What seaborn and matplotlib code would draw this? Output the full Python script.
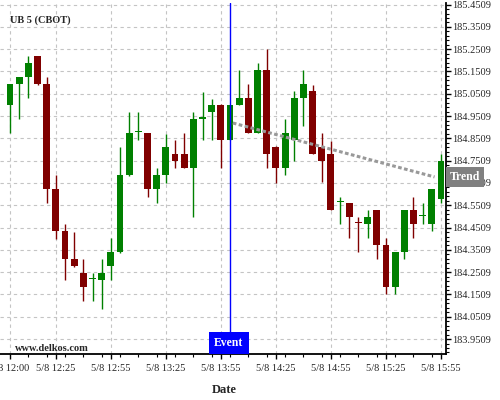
import numpy as np
import pandas as pd
import matplotlib
matplotlib.use("Agg")
import matplotlib.pyplot as plt
import matplotlib.transforms as mtransforms
from matplotlib.ticker import MultipleLocator, FixedLocator
import seaborn as sns

# 5-minute bars, 5/8 12:00 .. 15:55
opens = [185.000, 185.094, 185.127, 185.220, 185.094, 184.623, 184.435, 184.311,
         184.248, 184.219, 184.216, 184.278, 184.341, 184.686, 184.878, 184.873,
         184.625, 184.688, 184.781, 184.781, 184.719, 184.940, 184.970, 185.000,
         184.845, 185.000, 185.032, 184.876, 185.157, 184.812, 184.718, 184.845,
         185.032, 185.063, 184.813, 184.781, 184.565, 184.559, 184.472, 184.468,
         184.529, 184.373, 184.186, 184.343, 184.529, 184.501, 184.468, 184.577]
highs = [185.097, 185.128, 185.220, 185.222, 185.124, 184.686, 184.467, 184.432,
         184.308, 184.248, 184.308, 184.402, 184.811, 184.967, 184.967, 184.875,
         184.716, 184.870, 184.843, 184.873, 184.967, 185.060, 185.029, 185.003,
         185.002, 185.157, 185.094, 185.187, 185.250, 184.815, 184.936, 185.063,
         185.157, 185.090, 184.873, 184.840, 184.590, 184.561, 184.498, 184.528,
         184.531, 184.402, 184.341, 184.530, 184.589, 184.559, 184.626, 184.781]
lows = [184.875, 184.937, 185.030, 185.090, 184.559, 184.401, 184.216, 184.276,
        184.120, 184.120, 184.087, 184.216, 184.339, 184.684, 184.842, 184.589,
        184.559, 184.652, 184.716, 184.717, 184.497, 184.843, 184.843, 184.716,
        184.843, 184.999, 184.873, 184.874, 184.718, 184.652, 184.686, 184.749,
        184.906, 184.779, 184.654, 184.530, 184.465, 184.402, 184.340, 184.402,
        184.308, 184.153, 184.153, 184.308, 184.402, 184.468, 184.435, 184.559]
closes = [185.094, 185.126, 185.190, 185.094, 184.625, 184.437, 184.311, 184.278,
          184.186, 184.219, 184.248, 184.341, 184.686, 184.873, 184.878, 184.625,
          184.686, 184.812, 184.751, 184.719, 184.937, 184.940, 185.000, 184.845,
          185.000, 185.032, 184.876, 185.157, 184.781, 184.718, 184.875, 185.032,
          185.094, 184.781, 184.751, 184.531, 184.565, 184.499, 184.470, 184.498,
          184.374, 184.186, 184.340, 184.528, 184.468, 184.501, 184.624, 184.749]

tick_labels = ["5/8 12:00", "5/8 12:25", "5/8 12:55", "5/8 13:25", "5/8 13:55",
               "5/8 14:25", "5/8 14:55", "5/8 15:25", "5/8 15:55"]
event_time = "5/8 14:00"
trend_x = [24.3, 46.3]
trend_y = [184.920, 184.678]

times = pd.date_range("2024-05-08 12:00", periods=len(opens), freq="5min")
df = pd.DataFrame({"time": times.strftime("5/8 %H:%M"), "open": opens,
                   "high": highs, "low": lows, "close": closes})
df["idx"] = np.arange(len(df))
df["up"] = df["close"] >= df["open"]
df["color"] = np.where(df["up"], "#008000", "#800000")
df["bottom"] = df[["open", "close"]].min(axis=1)
df["height"] = (df["close"] - df["open"]).abs().clip(lower=0.005)

sns.set_style("white")
plt.rcParams["font.family"] = ["Liberation Serif", "DejaVu Serif"]

fig = plt.figure(figsize=(5, 4), dpi=100)
ax = fig.add_axes([0.0, 0.115, 0.892, 0.8775])

ax.vlines(df["idx"], df["low"], df["high"], colors=df["color"], linewidth=1.0, zorder=3)
ax.bar(df["idx"], df["height"], bottom=df["bottom"], width=0.75,
       color=df["color"], linewidth=0, zorder=4)

trend = pd.DataFrame({"x": trend_x, "y": trend_y})
sns.lineplot(data=trend, x="x", y="y", ax=ax, color="#999999",
             linewidth=2.2, linestyle=(0, (1.2, 0.8)), zorder=5)

event_idx = int(df.index[df["time"] == event_time][0])
ax.axvline(event_idx, color="#0000ff", linewidth=1.0, zorder=6)

ax.set_xlim(-1.09, 47.55)
ax.set_ylim(183.884, 185.458)

tick_pos = [int(df.index[df["time"] == t][0]) for t in tick_labels]
ax.xaxis.set_major_locator(FixedLocator(tick_pos))
ax.set_xticklabels(tick_labels)
ax.xaxis.set_minor_locator(MultipleLocator(2))

yt = np.round(np.arange(183.9509, 185.46, 0.1), 4)
ax.yaxis.set_major_locator(FixedLocator(yt))
ax.set_yticklabels([f"{v:.4f}" for v in yt])
ax.yaxis.set_minor_locator(FixedLocator(np.arange(183.8909, 185.46, 0.02)))
ax.yaxis.tick_right()

ax.tick_params(axis="both", which="major", labelsize=7.5, length=3.5, width=1, color="black")
ax.tick_params(axis="both", which="minor", length=2, width=0.8, color="black")
ax.tick_params(axis="x", which="major", pad=4)
ax.tick_params(axis="y", which="both", pad=1, right=True, left=False)
ax.tick_params(axis="x", which="both", bottom=True)

ax.grid(True, which="major", color="#c4c4c4", linestyle=(0, (3, 3)), linewidth=0.8)
ax.set_axisbelow(True)

for side in ["top", "left"]:
    ax.spines[side].set_visible(False)
for side in ["right", "bottom"]:
    ax.spines[side].set_color("black")
    ax.spines[side].set_linewidth(1.3)

ax.set_xlabel("Date", fontsize=9, fontweight="bold")
ax.xaxis.set_label_coords(0.504, -0.085)
ax.set_ylabel("")

ax.text(0.022, 0.952, "UB 5 (CBOT)", transform=ax.transAxes, fontsize=7.5,
        fontweight="bold", va="center", ha="left")
ax.text(0.034, 0.017, "www.delkos.com", transform=ax.transAxes, fontsize=7.5,
        fontweight="bold", va="center", ha="left")

blend = mtransforms.blended_transform_factory(ax.transData, ax.transAxes)
ax.text(event_idx - 0.15, 0.031, "Event", transform=blend, fontsize=8.5,
        fontweight="bold", color="white", ha="center", va="center", zorder=7,
        bbox=dict(boxstyle="square,pad=0.45", facecolor="#0000ff", edgecolor="none"))

blend_y = mtransforms.blended_transform_factory(ax.transAxes, ax.transData)
ax.text(1.0426, trend_y[-1], "Trend", transform=blend_y, fontsize=8.5,
        fontweight="bold", color="white", ha="center", va="center", zorder=7,
        clip_on=False,
        bbox=dict(boxstyle="square,pad=0.35", facecolor="#808080", edgecolor="none"))

fig.savefig("out.png", dpi=100)
